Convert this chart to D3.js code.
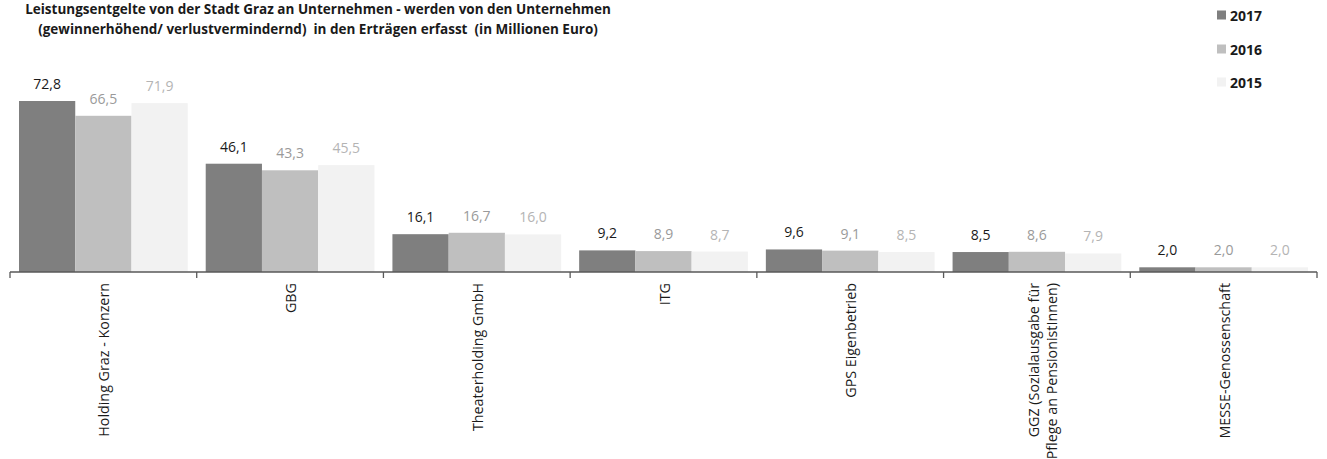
<!DOCTYPE html>
<html><head><meta charset="utf-8">
<script src="https://cdn.jsdelivr.net/npm/d3@7"></script>
<style>
html,body{margin:0;padding:0;background:#fff;}
svg{display:block;font-family:"Open Sans",sans-serif;}
text{white-space:pre;}
</style></head>
<body>
<script>
const categories = [
  ["Holding Graz - Konzern"],
  ["GBG"],
  ["Theaterholding GmbH"],
  ["ITG"],
  ["GPS Eigenbetrieb"],
  ["GGZ (Sozialausgabe für", "Pflege an PensionistInnen)"],
  ["MESSE-Genossenschaft"]
];
const years = ["2017", "2016", "2015"];
const values2017 = [72.8, 46.1, 16.1, 9.2, 9.6, 8.5, 2.0];
const values2016 = [66.5, 43.3, 16.7, 8.9, 9.1, 8.6, 2.0];
const values2015 = [71.9, 45.5, 16.0, 8.7, 8.5, 7.9, 2.0];
const titleLines = [
  "Leistungsentgelte von der Stadt Graz an Unternehmen - werden von den Unternehmen",
  "(gewinnerhöhend/ verlustvermindernd)  in den Erträgen erfasst  (in Millionen Euro)"
];

const series = [values2017, values2016, values2015];
const fills = ["#7f7f7f", "#bfbfbf", "#f2f2f2"];
const labelColors = ["#1a1a1a", "#9a9a9a", "#b4b4b4"];

const W = 1327, H = 459;
const svg = d3.select("body").append("svg").attr("width", W).attr("height", H);

const x0 = d3.scaleBand().domain(d3.range(categories.length)).range([10, 1317]).padding(0);
const x1 = d3.scaleBand().domain(d3.range(years.length)).range([9, x0.bandwidth() - 9]).padding(0);
const y = d3.scaleLinear().domain([0, 72.8]).range([272, 101]);

// title
svg.append("g").selectAll("text").data(titleLines).join("text")
  .attr("x", 318).attr("y", (d, i) => 14 + i * 20)
  .attr("text-anchor", "middle")
  .attr("font-size", 13.5).attr("font-weight", "bold").attr("fill", "#1a1a1a")
  .text(d => d);

// bars
const groups = svg.append("g").selectAll("g").data(categories).join("g")
  .attr("transform", (d, i) => `translate(${x0(i)},0)`);

groups.each(function(cat, ci) {
  const g = d3.select(this);
  years.forEach((yr, si) => {
    const v = series[si][ci];
    g.append("rect")
      .attr("x", x1(si)).attr("width", x1.bandwidth())
      .attr("y", y(v)).attr("height", y(0) - y(v))
      .attr("fill", fills[si]);
    g.append("text")
      .attr("x", x1(si) + x1.bandwidth() / 2)
      .attr("y", y(v) - 12)
      .attr("text-anchor", "middle")
      .attr("font-size", 14).attr("fill", labelColors[si])
      .text(d3.format(".1f")(v).replace(".", ","));
  });
});

// axis
const axisG = svg.append("g").attr("transform", "translate(0,272)");
axisG.append("line").attr("x1", 10).attr("x2", 1317).attr("y1", 0).attr("y2", 0)
  .attr("stroke", "#595959").attr("stroke-width", 1.3);
const ticks = d3.range(categories.length + 1).map(i => i < categories.length ? x0(i) : x0.range()[1]);
axisG.selectAll("line.tick").data(ticks).join("line").attr("class", "tick")
  .attr("x1", d => d).attr("x2", d => d).attr("y1", 0).attr("y2", 6)
  .attr("stroke", "#595959").attr("stroke-width", 1.3);

// category labels (rotated)
categories.forEach((lines, ci) => {
  const cx = x0(ci) + x0.bandwidth() / 2;
  const n = lines.length;
  lines.forEach((ln, li) => {
    const lx = cx + (li - (n - 1) / 2) * 18 + (n > 1 ? 11 : 6);
    svg.append("text")
      .attr("transform", `translate(${lx},283) rotate(-90)`)
      .attr("text-anchor", "end")
      .attr("font-size", 14.3).attr("fill", "#1a1a1a")
      .text(ln);
  });
});

// legend
const leg = svg.append("g").selectAll("g").data(years).join("g")
  .attr("transform", (d, i) => `translate(1217,${[15, 49, 82][i]})`);
leg.append("rect").attr("x", 0).attr("y", -4.5).attr("width", 9).attr("height", 9)
  .attr("fill", (d, i) => fills[i]);
leg.append("text").attr("x", 13).attr("y", 5.5)
  .attr("font-size", 14).attr("font-weight", "bold").attr("fill", "#1a1a1a")
  .text(d => d);
</script>
</body></html>
